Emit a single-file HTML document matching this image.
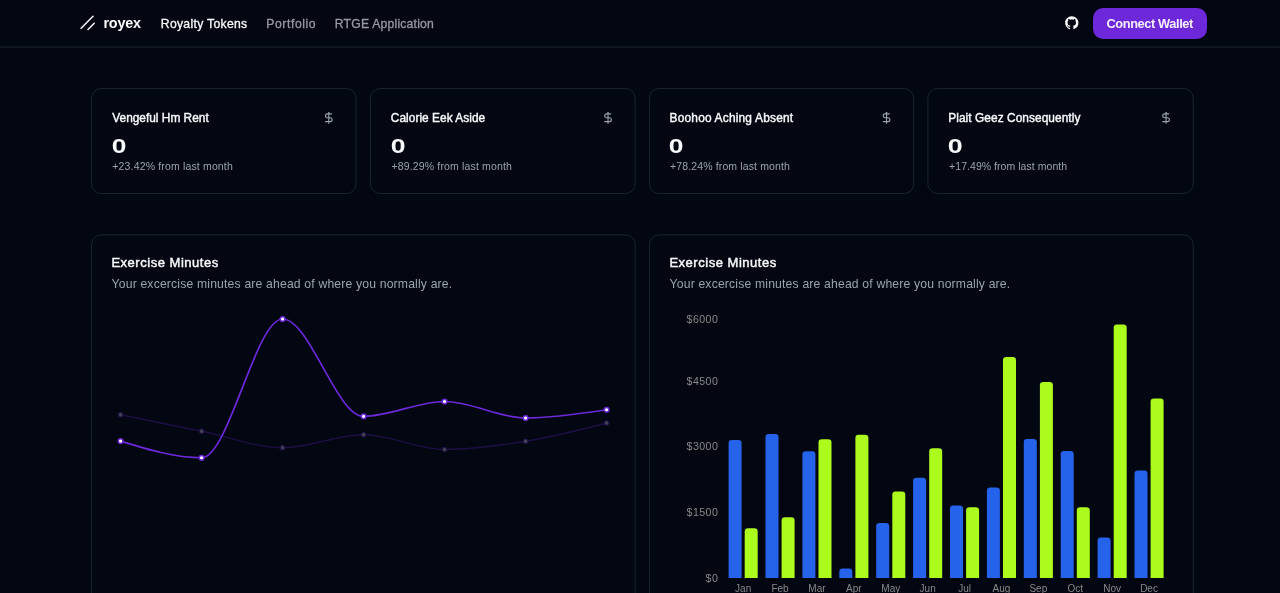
<!DOCTYPE html>
<html lang="en"><head><meta charset="utf-8"><title>royex</title>
<style>
html,body{margin:0;padding:0;background:#030712;}
body{width:1280px;height:593px;position:relative;overflow:hidden;font-family:"Liberation Sans",sans-serif;color:#f9fafb;}
.t{position:absolute;white-space:nowrap;line-height:20px;transform-origin:0 50%;}
.layer{position:absolute;left:0;top:0;width:1280px;height:593px;will-change:transform;}
.btn{position:absolute;left:1093.3px;top:8.1px;width:113.8px;height:30.7px;border-radius:10px;background:#6d28d9;border:0;padding:0;margin:0;font:inherit;cursor:pointer;}
a.t{text-decoration:none;}
h2.t,h3.t,p.t{margin:0;}
svg{position:absolute;left:0;top:0;overflow:visible}
</style></head><body>

<div class="layer">
<a class="t" style="left:103.52px;top:12.61px;font-size:14.4px;font-weight:bold;color:#f8fafc;letter-spacing:-0.248px;">royex</a>
<a class="t" style="left:160.79px;top:13.87px;font-size:12.2px;font-weight:normal;color:#f8fafc;letter-spacing:0.304px;-webkit-text-stroke:0.3px #f8fafc;">Royalty Tokens</a>
<a class="t" style="left:266.29px;top:13.87px;font-size:12.2px;font-weight:normal;color:#969aa3;letter-spacing:0.580px;-webkit-text-stroke:0.3px #969aa3;">Portfolio</a>
<a class="t" style="left:334.79px;top:13.87px;font-size:12.2px;font-weight:normal;color:#969aa3;letter-spacing:0.207px;-webkit-text-stroke:0.3px #969aa3;">RTGE Application</a>
<button class="btn" type="button"><span class="t" style="left:13.20px;top:6.16px;font-size:12.8px;font-weight:bold;color:#f5f0ff;letter-spacing:-0.397px;">Connect Wallet</span></button>
<h3 class="t" style="left:112.28px;top:107.78px;font-size:11.9px;font-weight:normal;color:#f8fafc;letter-spacing:-0.005px;-webkit-text-stroke:0.4px #f8fafc;">Vengeful Hm Rent</h3>
<h3 class="t" style="left:390.82px;top:107.78px;font-size:11.9px;font-weight:normal;color:#f8fafc;letter-spacing:0.031px;-webkit-text-stroke:0.4px #f8fafc;">Calorie Eek Aside</h3>
<h3 class="t" style="left:669.56px;top:107.78px;font-size:11.9px;font-weight:normal;color:#f8fafc;letter-spacing:0.203px;-webkit-text-stroke:0.4px #f8fafc;">Boohoo Aching Absent</h3>
<h3 class="t" style="left:948.26px;top:107.78px;font-size:11.9px;font-weight:normal;color:#f8fafc;letter-spacing:0.055px;-webkit-text-stroke:0.4px #f8fafc;">Plait Geez Consequently</h3>
<p class="t" style="left:111.66px;top:136.37px;font-size:20px;font-weight:bold;color:#f8fafc;transform-origin:0.74px 50%;transform:scaleX(1.319);">0</p>
<p class="t" style="left:390.56px;top:136.37px;font-size:20px;font-weight:bold;color:#f8fafc;transform-origin:0.74px 50%;transform:scaleX(1.330);">0</p>
<p class="t" style="left:669.46px;top:136.37px;font-size:20px;font-weight:bold;color:#f8fafc;transform-origin:0.74px 50%;transform:scaleX(1.319);">0</p>
<p class="t" style="left:948.46px;top:136.37px;font-size:20px;font-weight:bold;color:#f8fafc;transform-origin:0.74px 50%;transform:scaleX(1.340);">0</p>
<p class="t" style="left:112.32px;top:156.26px;font-size:10.5px;font-weight:normal;color:#9ca3af;letter-spacing:0.157px;">+23.42% from last month</p>
<p class="t" style="left:391.52px;top:156.26px;font-size:10.5px;font-weight:normal;color:#9ca3af;letter-spacing:0.148px;">+89.29% from last month</p>
<p class="t" style="left:670.02px;top:156.26px;font-size:10.5px;font-weight:normal;color:#9ca3af;letter-spacing:0.130px;">+78.24% from last month</p>
<p class="t" style="left:949.12px;top:156.26px;font-size:10.5px;font-weight:normal;color:#9ca3af;letter-spacing:0.043px;">+17.49% from last month</p>
<h3 class="t" style="left:111.40px;top:252.90px;font-size:13.0px;font-weight:normal;color:#f8fafc;letter-spacing:0.520px;-webkit-text-stroke:0.45px #f8fafc;">Exercise Minutes</h3>
<p class="t" style="left:111.57px;top:274.17px;font-size:12.2px;font-weight:normal;color:#9ca3af;letter-spacing:0.169px;">Your excercise minutes are ahead of where you normally are.</p>
<h3 class="t" style="left:669.40px;top:252.90px;font-size:13.0px;font-weight:normal;color:#f8fafc;letter-spacing:0.520px;-webkit-text-stroke:0.45px #f8fafc;">Exercise Minutes</h3>
<p class="t" style="left:669.57px;top:274.17px;font-size:12.2px;font-weight:normal;color:#9ca3af;letter-spacing:0.169px;">Your excercise minutes are ahead of where you normally are.</p>
</div>
<svg width="1280" height="593" viewBox="0 0 1280 593">
<g fill="none" stroke="#1f2937" stroke-width="0.83">
<path d="M0,47.05 H1280"/>
<rect x="91.53" y="88.56" width="264.41" height="104.97" rx="9.6"/>
<rect x="370.53" y="88.56" width="264.63" height="104.97" rx="9.6"/>
<rect x="649.44" y="88.56" width="264.25" height="104.97" rx="9.6"/>
<rect x="927.90" y="88.56" width="265.29" height="104.97" rx="9.6"/>
<rect x="91.53" y="234.9" width="543.63" height="420" rx="9.6"/>
<rect x="649.44" y="234.9" width="543.75" height="420" rx="9.6"/>
</g>
<g stroke="#f1f3f6" stroke-width="1.55" stroke-linecap="round" fill="none"><path d="M94.25,23.20 L88.00,29.45"/><path d="M93.00,16.32 L81.12,28.20"/></g>
<path transform="translate(1065.1,16.2) scale(0.8331)" fill="#f9fafb" d="M8 0C3.58 0 0 3.58 0 8c0 3.54 2.29 6.53 5.47 7.59.4.07.55-.17.55-.38 0-.19-.01-.82-.01-1.49-2.01.37-2.53-.49-2.69-.94-.09-.23-.48-.94-.82-1.13-.28-.15-.68-.52-.01-.53.63-.01 1.08.58 1.23.82.72 1.21 1.87.87 2.33.66.07-.52.28-.87.51-1.07-1.78-.2-3.64-.89-3.64-3.95 0-.87.31-1.59.82-2.15-.08-.2-.36-1.02.08-2.12 0 0 .67-.21 2.2.82.64-.18 1.32-.27 2-.27.68 0 1.36.09 2 .27 1.53-1.04 2.2-.82 2.2-.82.44 1.1.16 1.92.08 2.12.51.56.82 1.27.82 2.15 0 3.07-1.87 3.75-3.65 3.95.29.25.54.73.54 1.48 0 1.07-.01 1.93-.01 2.2 0 .21.15.46.55.38A8.013 8.013 0 0016 8c0-4.42-3.58-8-8-8z"/>
<g transform="translate(322.13,111.08) scale(0.5554)" stroke="#9ca3af" stroke-width="2" stroke-linecap="round" stroke-linejoin="round" fill="none"><path d="M12 2v20"/><path d="M17 5H9.5a3.5 3.5 0 0 0 0 7h5a3.5 3.5 0 0 1 0 7H6"/></g>
<g transform="translate(601.36,111.08) scale(0.5554)" stroke="#9ca3af" stroke-width="2" stroke-linecap="round" stroke-linejoin="round" fill="none"><path d="M12 2v20"/><path d="M17 5H9.5a3.5 3.5 0 0 0 0 7h5a3.5 3.5 0 0 1 0 7H6"/></g>
<g transform="translate(879.89,111.08) scale(0.5554)" stroke="#9ca3af" stroke-width="2" stroke-linecap="round" stroke-linejoin="round" fill="none"><path d="M12 2v20"/><path d="M17 5H9.5a3.5 3.5 0 0 0 0 7h5a3.5 3.5 0 0 1 0 7H6"/></g>
<g transform="translate(1159.38,111.08) scale(0.5554)" stroke="#9ca3af" stroke-width="2" stroke-linecap="round" stroke-linejoin="round" fill="none"><path d="M12 2v20"/><path d="M17 5H9.5a3.5 3.5 0 0 0 0 7h5a3.5 3.5 0 0 1 0 7H6"/></g>
<g opacity="0.25"><path d="M120.60,414.70C147.60,420.20,174.60,425.70,201.60,431.20C228.60,436.70,255.60,447.70,282.60,447.70C309.60,447.70,336.60,434.83,363.60,434.83C390.60,434.83,417.60,449.51,444.60,449.51C471.60,449.51,498.60,445.66,525.60,441.26C552.60,436.87,579.60,429.99,606.60,423.12" fill="none" stroke="#6d28d9" stroke-width="1.45"/><circle cx="120.60" cy="414.70" r="2.3" fill="#fff" stroke="#6d28d9" stroke-width="1.1"/><circle cx="201.60" cy="431.20" r="2.3" fill="#fff" stroke="#6d28d9" stroke-width="1.1"/><circle cx="282.60" cy="447.70" r="2.3" fill="#fff" stroke="#6d28d9" stroke-width="1.1"/><circle cx="363.60" cy="434.83" r="2.3" fill="#fff" stroke="#6d28d9" stroke-width="1.1"/><circle cx="444.60" cy="449.51" r="2.3" fill="#fff" stroke="#6d28d9" stroke-width="1.1"/><circle cx="525.60" cy="441.26" r="2.3" fill="#fff" stroke="#6d28d9" stroke-width="1.1"/><circle cx="606.60" cy="423.12" r="2.3" fill="#fff" stroke="#6d28d9" stroke-width="1.1"/></g>
<g><path d="M120.60,441.10C147.60,449.43,174.60,457.76,201.60,457.76C228.60,457.76,255.60,319.00,282.60,319.00C309.60,319.00,336.60,416.35,363.60,416.35C390.60,416.35,417.60,401.50,444.60,401.50C471.60,401.50,498.60,418.00,525.60,418.00C552.60,418.00,579.60,413.88,606.60,409.75" fill="none" stroke="#6d28d9" stroke-width="1.67"/><circle cx="120.60" cy="441.10" r="2.35" fill="#fff" stroke="#6d28d9" stroke-width="1.5"/><circle cx="201.60" cy="457.76" r="2.35" fill="#fff" stroke="#6d28d9" stroke-width="1.5"/><circle cx="282.60" cy="319.00" r="2.35" fill="#fff" stroke="#6d28d9" stroke-width="1.5"/><circle cx="363.60" cy="416.35" r="2.35" fill="#fff" stroke="#6d28d9" stroke-width="1.5"/><circle cx="444.60" cy="401.50" r="2.35" fill="#fff" stroke="#6d28d9" stroke-width="1.5"/><circle cx="525.60" cy="418.00" r="2.35" fill="#fff" stroke="#6d28d9" stroke-width="1.5"/><circle cx="606.60" cy="409.75" r="2.35" fill="#fff" stroke="#6d28d9" stroke-width="1.5"/></g>
<path fill="#2563eb" d="M728.60,577.9 V443.23 Q728.60,439.90 731.93,439.90 H738.27 Q741.60,439.90 741.60,443.23 V577.9 Z"/>
<path fill="#adfa1d" d="M744.70,577.9 V531.63 Q744.70,528.30 748.03,528.30 H754.37 Q757.70,528.30 757.70,531.63 V577.9 Z"/>
<path fill="#2563eb" d="M765.50,577.9 V437.43 Q765.50,434.10 768.83,434.10 H775.17 Q778.50,434.10 778.50,437.43 V577.9 Z"/>
<path fill="#adfa1d" d="M781.60,577.9 V520.63 Q781.60,517.30 784.93,517.30 H791.27 Q794.60,517.30 794.60,520.63 V577.9 Z"/>
<path fill="#2563eb" d="M802.40,577.9 V454.53 Q802.40,451.20 805.73,451.20 H812.07 Q815.40,451.20 815.40,454.53 V577.9 Z"/>
<path fill="#adfa1d" d="M818.50,577.9 V442.53 Q818.50,439.20 821.83,439.20 H828.17 Q831.50,439.20 831.50,442.53 V577.9 Z"/>
<path fill="#2563eb" d="M839.30,577.9 V571.93 Q839.30,568.60 842.63,568.60 H848.97 Q852.30,568.60 852.30,571.93 V577.9 Z"/>
<path fill="#adfa1d" d="M855.40,577.9 V438.13 Q855.40,434.80 858.73,434.80 H865.07 Q868.40,434.80 868.40,438.13 V577.9 Z"/>
<path fill="#2563eb" d="M876.20,577.9 V526.43 Q876.20,523.10 879.53,523.10 H885.87 Q889.20,523.10 889.20,526.43 V577.9 Z"/>
<path fill="#adfa1d" d="M892.30,577.9 V494.83 Q892.30,491.50 895.63,491.50 H901.97 Q905.30,491.50 905.30,494.83 V577.9 Z"/>
<path fill="#2563eb" d="M913.10,577.9 V481.13 Q913.10,477.80 916.43,477.80 H922.77 Q926.10,477.80 926.10,481.13 V577.9 Z"/>
<path fill="#adfa1d" d="M929.20,577.9 V451.53 Q929.20,448.20 932.53,448.20 H938.87 Q942.20,448.20 942.20,451.53 V577.9 Z"/>
<path fill="#2563eb" d="M950.00,577.9 V508.73 Q950.00,505.40 953.33,505.40 H959.67 Q963.00,505.40 963.00,508.73 V577.9 Z"/>
<path fill="#adfa1d" d="M966.10,577.9 V510.53 Q966.10,507.20 969.43,507.20 H975.77 Q979.10,507.20 979.10,510.53 V577.9 Z"/>
<path fill="#2563eb" d="M986.90,577.9 V490.93 Q986.90,487.60 990.23,487.60 H996.57 Q999.90,487.60 999.90,490.93 V577.9 Z"/>
<path fill="#adfa1d" d="M1003.00,577.9 V360.23 Q1003.00,356.90 1006.33,356.90 H1012.67 Q1016.00,356.90 1016.00,360.23 V577.9 Z"/>
<path fill="#2563eb" d="M1023.80,577.9 V442.33 Q1023.80,439.00 1027.13,439.00 H1033.47 Q1036.80,439.00 1036.80,442.33 V577.9 Z"/>
<path fill="#adfa1d" d="M1039.90,577.9 V385.23 Q1039.90,381.90 1043.23,381.90 H1049.57 Q1052.90,381.90 1052.90,385.23 V577.9 Z"/>
<path fill="#2563eb" d="M1060.70,577.9 V454.23 Q1060.70,450.90 1064.03,450.90 H1070.37 Q1073.70,450.90 1073.70,454.23 V577.9 Z"/>
<path fill="#adfa1d" d="M1076.80,577.9 V510.53 Q1076.80,507.20 1080.13,507.20 H1086.47 Q1089.80,507.20 1089.80,510.53 V577.9 Z"/>
<path fill="#2563eb" d="M1097.60,577.9 V540.93 Q1097.60,537.60 1100.93,537.60 H1107.27 Q1110.60,537.60 1110.60,540.93 V577.9 Z"/>
<path fill="#adfa1d" d="M1113.70,577.9 V327.83 Q1113.70,324.50 1117.03,324.50 H1123.37 Q1126.70,324.50 1126.70,327.83 V577.9 Z"/>
<path fill="#2563eb" d="M1134.50,577.9 V473.93 Q1134.50,470.60 1137.83,470.60 H1144.17 Q1147.50,470.60 1147.50,473.93 V577.9 Z"/>
<path fill="#adfa1d" d="M1150.60,577.9 V401.93 Q1150.60,398.60 1153.93,398.60 H1160.27 Q1163.60,398.60 1163.60,401.93 V577.9 Z"/>
<g font-family="Liberation Sans, sans-serif" font-size="10" fill="#888888">
<text x="743.15" y="592.0" text-anchor="middle">Jan</text>
<text x="780.05" y="592.0" text-anchor="middle">Feb</text>
<text x="816.95" y="592.0" text-anchor="middle">Mar</text>
<text x="853.85" y="592.0" text-anchor="middle">Apr</text>
<text x="890.75" y="592.0" text-anchor="middle">May</text>
<text x="927.65" y="592.0" text-anchor="middle">Jun</text>
<text x="964.55" y="592.0" text-anchor="middle">Jul</text>
<text x="1001.45" y="592.0" text-anchor="middle">Aug</text>
<text x="1038.35" y="592.0" text-anchor="middle">Sep</text>
<text x="1075.25" y="592.0" text-anchor="middle">Oct</text>
<text x="1112.15" y="592.0" text-anchor="middle">Nov</text>
<text x="1149.05" y="592.0" text-anchor="middle">Dec</text>
<text x="718.3" y="323.2" text-anchor="end" font-size="10.6" letter-spacing="0.45">$6000</text>
<text x="718.3" y="384.8" text-anchor="end" font-size="10.6" letter-spacing="0.45">$4500</text>
<text x="718.3" y="450.3" text-anchor="end" font-size="10.6" letter-spacing="0.45">$3000</text>
<text x="718.3" y="515.9" text-anchor="end" font-size="10.6" letter-spacing="0.45">$1500</text>
<text x="718.3" y="581.6" text-anchor="end" font-size="10.6" letter-spacing="0.45">$0</text>
</g>
</svg>
</body></html>
